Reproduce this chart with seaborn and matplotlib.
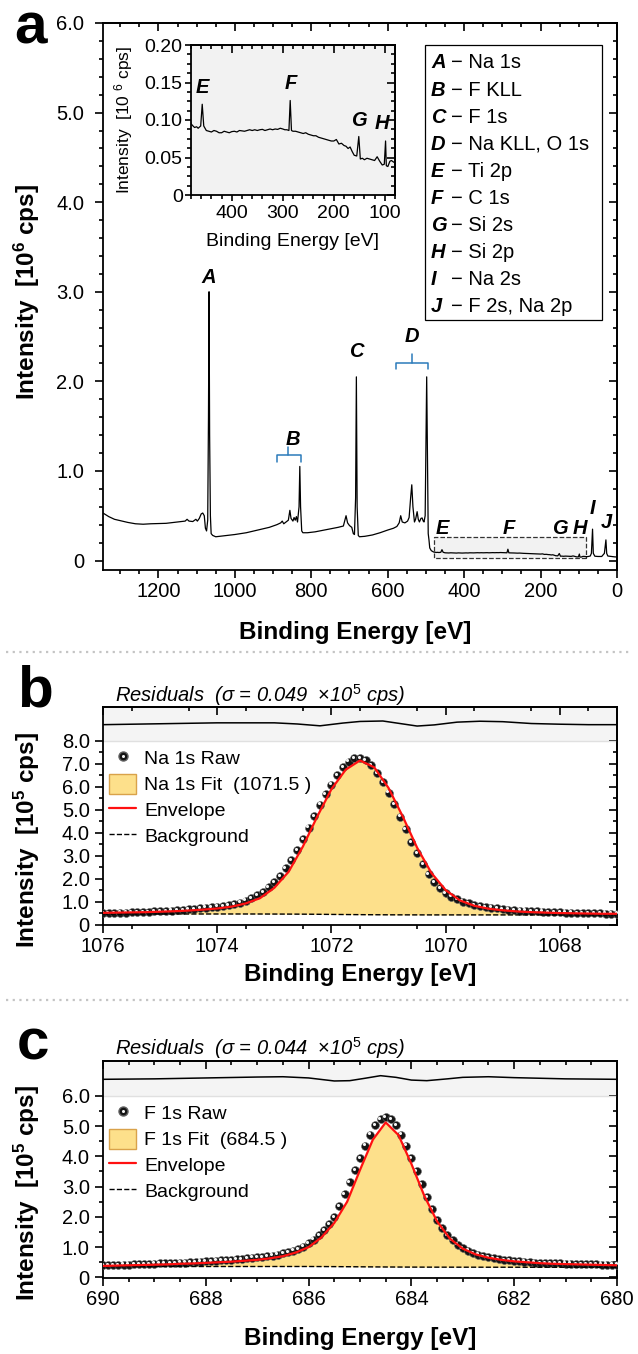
import numpy as np
import pandas as pd
import seaborn as sns
import matplotlib.pyplot as plt
import matplotlib.transforms as mtransforms
from matplotlib.lines import Line2D
from matplotlib.patches import Patch, Rectangle
from matplotlib.ticker import FixedLocator, FuncFormatter, NullFormatter
from matplotlib.legend_handler import HandlerTuple

# ---------------- survey spectrum (panel a) ----------------
survey_be = [1345, 1330, 1315, 1300, 1280, 1260, 1240, 1220, 1200, 1180, 1160, 1140, 1130, 1125, 1120,
             1110, 1105, 1102, 1098, 1093, 1088, 1084, 1080, 1077, 1074, 1071, 1069, 1067.5, 1066, 1064,
             1062, 1058, 1050, 1030, 1000, 970, 940, 910, 890, 880, 876, 872, 866, 860, 856,
             853, 848, 845, 842, 839, 836, 832, 830, 828, 825, 822, 810, 790, 760, 730,
             716, 712, 709, 705, 700, 694, 690, 687, 684, 682, 680, 677, 674, 660, 640,
             620, 600, 585, 576, 570, 566, 562, 555, 548, 544, 540, 537, 534, 530, 527,
             523, 520, 517, 513, 510, 507, 505, 502, 500, 498, 496, 494, 492, 490, 486,
             482, 480, 476, 473, 469, 466, 461, 458, 455, 450, 445, 440, 435, 430, 425,
             420, 415, 410, 405, 400, 395, 390, 385, 380, 375, 370, 365, 360, 355, 350,
             345, 340, 335, 330, 325, 320, 315, 310, 305, 300, 296, 292, 288, 285.5, 283,
             280, 275, 270, 265, 260, 255, 250, 245, 240, 235, 230, 225, 220, 215, 210,
             205, 200, 195, 190, 185, 180, 176, 172, 168, 164, 160, 155, 151, 148, 144,
             140, 135, 130, 125, 120, 115, 110, 105, 101, 98.5, 97, 94, 90, 87, 83,
             80, 75, 70, 67, 64, 62, 58, 50, 40, 33, 29, 27, 24, 15, 5,
             0]
survey_int = [0.53, 0.49, 0.46, 0.445, 0.425, 0.41, 0.405, 0.41, 0.412, 0.415, 0.425, 0.435, 0.44, 0.46, 0.44,
              0.435, 0.45, 0.46, 0.44, 0.47, 0.52, 0.53, 0.50, 0.36, 0.33, 0.45, 1.6, 3.0, 1.4, 0.5,
              0.30, 0.28, 0.265, 0.275, 0.29, 0.31, 0.34, 0.37, 0.40, 0.42, 0.44, 0.41, 0.43, 0.45, 0.56,
              0.47, 0.44, 0.48, 0.45, 0.49, 0.43, 0.60, 1.05, 0.60, 0.33, 0.31, 0.31, 0.32, 0.345, 0.37,
              0.385, 0.45, 0.50, 0.42, 0.39, 0.37, 0.30, 0.29, 0.70, 2.05, 0.60, 0.28, 0.265, 0.27, 0.285,
              0.31, 0.34, 0.36, 0.38, 0.42, 0.50, 0.43, 0.42, 0.44, 0.48, 0.70, 0.845, 0.60, 0.43, 0.46,
              0.545, 0.46, 0.43, 0.47, 0.475, 0.44, 0.43, 0.50, 1.30, 2.05, 1.20, 0.30, 0.23, 0.14, 0.11,
              0.10, 0.095, 0.092, 0.090, 0.091, 0.089, 0.092, 0.121, 0.092, 0.086, 0.085, 0.084, 0.086, 0.085, 0.083,
              0.083, 0.085, 0.084, 0.083, 0.0845, 0.085, 0.084, 0.086, 0.0855, 0.085, 0.086, 0.087, 0.086, 0.087, 0.086,
              0.087, 0.0875, 0.086, 0.087, 0.088, 0.087, 0.088, 0.0875, 0.089, 0.088, 0.087, 0.087, 0.086, 0.126, 0.086,
              0.085, 0.085, 0.084, 0.083, 0.082, 0.083, 0.081, 0.080, 0.079, 0.079, 0.077, 0.076, 0.075, 0.074, 0.073,
              0.072, 0.072, 0.074, 0.068, 0.069, 0.066, 0.065, 0.062, 0.064, 0.058, 0.053, 0.052, 0.078, 0.048, 0.049,
              0.047, 0.049, 0.048, 0.047, 0.046, 0.051, 0.045, 0.040, 0.041, 0.072, 0.039, 0.038, 0.045, 0.046, 0.044,
              0.043, 0.045, 0.050, 0.080, 0.35, 0.08, 0.048, 0.045, 0.045, 0.08, 0.23, 0.08, 0.05, 0.045, 0.04,
              0.04]

peak_letters = ['A', 'B', 'C', 'D', 'E', 'F', 'G', 'H', 'I', 'J']
peak_names = ['Na 1s', 'F KLL', 'F 1s', 'Na KLL, O 1s', 'Ti 2p', 'C 1s', 'Si 2s', 'Si 2p', 'Na 2s', 'F 2s, Na 2p']
label_be = [1068, 847, 682, 536, 458, 282, 149, 97, 64, 29]
label_int = [3.16, 1.35, 2.33, 2.50, 0.36, 0.36, 0.36, 0.36, 0.58, 0.42]

inset_letters = ['E', 'F', 'G', 'H']
inset_label_be = [457, 284, 150, 105]
inset_label_int = [0.143, 0.149, 0.100, 0.095]

# brackets: (left eV, right eV, centre eV, y, y_end, y_stem)
bracket_b = (889, 826, 860, 1.18, 1.10, 1.27)
bracket_d = (578, 494, 536, 2.21, 2.14, 2.31)
zoom_box = (80, 480, 0.03, 0.26)

# ---------------- Na 1s (panel b) ----------------
na_raw_be = np.round(np.arange(1076.0, 1066.95, -0.1), 2)
na_raw = [0.50, 0.51, 0.51, 0.52, 0.52, 0.53, 0.54, 0.55, 0.55, 0.57,
          0.58, 0.59, 0.61, 0.62, 0.64, 0.66, 0.68, 0.70, 0.73, 0.76,
          0.78, 0.81, 0.85, 0.90, 0.96, 1.04, 1.14, 1.27, 1.42, 1.62,
          1.85, 2.12, 2.45, 2.82, 3.25, 3.72, 4.22, 4.72, 5.22, 5.68,
          6.10, 6.50, 6.85, 7.10, 7.24, 7.26, 7.16, 6.95, 6.60, 6.20,
          5.75, 5.25, 4.70, 4.15, 3.60, 3.10, 2.62, 2.20, 1.85, 1.58,
          1.38, 1.22, 1.10, 1.00, 0.92, 0.86, 0.81, 0.77, 0.73, 0.70,
          0.67, 0.65, 0.63, 0.61, 0.60, 0.58, 0.57, 0.56, 0.55, 0.54,
          0.53, 0.52, 0.52, 0.51, 0.50, 0.50, 0.49, 0.49, 0.48, 0.48,
          0.48]
na_fit_be = np.arange(1076.0, 1066.99, -0.25)
na_env = [0.51, 0.52, 0.53, 0.54, 0.56, 0.58, 0.61, 0.65, 0.70, 0.78, 0.92, 1.15, 1.60,
          2.30, 3.40, 4.70, 5.90, 6.75, 7.15, 6.85, 5.95, 4.70, 3.35, 2.25, 1.50, 1.05,
          0.82, 0.69, 0.62, 0.57, 0.54, 0.52, 0.50, 0.49, 0.48, 0.47, 0.47]
na_bg = [0.46, 0.46, 0.46, 0.46, 0.46, 0.46, 0.46, 0.46, 0.46, 0.46,
         0.46, 0.459, 0.457, 0.455, 0.452, 0.447, 0.441, 0.436, 0.431, 0.427,
         0.424, 0.422, 0.421, 0.420, 0.420, 0.420, 0.420, 0.420, 0.420, 0.420,
         0.420, 0.420, 0.420, 0.420, 0.420, 0.420, 0.420]
na_res_be = [1076, 1075, 1074, 1073, 1072.6, 1072.2, 1071.8, 1071.5, 1071.1, 1070.8,
             1070.5, 1070.2, 1069.8, 1069.4, 1069, 1068.5, 1068, 1067.5, 1067]
na_res = [8.71, 8.75, 8.79, 8.79, 8.74, 8.66, 8.78, 8.85, 8.87, 8.76,
          8.65, 8.70, 8.82, 8.86, 8.84, 8.76, 8.73, 8.71, 8.71]

# ---------------- F 1s (panel c) ----------------
f_raw_be = np.round(np.arange(690.0, 679.95, -0.1), 2)
f_raw = [0.40, 0.40, 0.41, 0.41, 0.42, 0.42, 0.43, 0.43, 0.44, 0.44,
         0.45, 0.46, 0.46, 0.47, 0.48, 0.49, 0.49, 0.50, 0.51, 0.52,
         0.53, 0.54, 0.55, 0.56, 0.57, 0.58, 0.60, 0.61, 0.63, 0.65,
         0.66, 0.68, 0.70, 0.72, 0.75, 0.79, 0.83, 0.88, 0.94, 1.02,
         1.12, 1.25, 1.40, 1.57, 1.77, 2.00, 2.35, 2.75, 3.15, 3.55,
         3.95, 4.35, 4.72, 5.02, 5.22, 5.30, 5.22, 5.02, 4.72, 4.35,
         3.95, 3.52, 3.08, 2.65, 2.25, 1.90, 1.62, 1.40, 1.22, 1.08,
         0.97, 0.88, 0.81, 0.75, 0.70, 0.66, 0.63, 0.60, 0.58, 0.56,
         0.54, 0.53, 0.52, 0.50, 0.49, 0.48, 0.48, 0.47, 0.46, 0.46,
         0.45, 0.45, 0.44, 0.44, 0.43, 0.43, 0.43, 0.42, 0.42, 0.42,
         0.42]
f_fit_be = np.arange(690.0, 679.99, -0.25)
f_env = [0.38, 0.39, 0.40, 0.41, 0.42, 0.43, 0.45, 0.46, 0.48, 0.50,
         0.52, 0.55, 0.58, 0.63, 0.70, 0.82, 1.00, 1.32, 1.80, 2.50,
         3.55, 4.55, 5.12, 4.70, 3.75, 2.70, 1.85, 1.28, 0.95, 0.76,
         0.65, 0.58, 0.53, 0.50, 0.47, 0.45, 0.44, 0.43, 0.42, 0.41,
         0.40]
f_bg = [0.36, 0.36, 0.36, 0.36, 0.36, 0.36, 0.36, 0.36, 0.36, 0.36,
        0.36, 0.36, 0.36, 0.36, 0.36, 0.36, 0.36, 0.358, 0.356, 0.353,
        0.350, 0.347, 0.344, 0.342, 0.340, 0.339, 0.338, 0.338, 0.337, 0.337,
        0.336, 0.336, 0.336, 0.335, 0.335, 0.335, 0.335, 0.335, 0.335, 0.335,
        0.335]
f_res_be = [690, 689, 688, 687, 686.5, 686, 685.5, 685.2, 684.9, 684.6,
            684.3, 684, 683.7, 683.3, 683, 682.5, 682, 681, 680]
f_res = [6.545, 6.56, 6.59, 6.62, 6.63, 6.59, 6.49, 6.50, 6.58, 6.665,
         6.61, 6.52, 6.50, 6.56, 6.61, 6.63, 6.60, 6.56, 6.545]

FILL = '#fde08b'
FILL_EDGE = '#d9a24a'
W, H = 638, 1354
TICK = 14.5
LAB = 17.5

sns.set_theme(style='ticks')
plt.rcParams['font.family'] = ['Liberation Sans', 'DejaVu Sans']
plt.rcParams['mathtext.fontset'] = 'custom'
plt.rcParams['mathtext.rm'] = 'Liberation Sans'
plt.rcParams['mathtext.it'] = 'Liberation Sans:italic'
plt.rcParams['mathtext.bf'] = 'Liberation Sans:bold'
plt.rcParams['axes.edgecolor'] = 'black'
plt.rcParams['axes.linewidth'] = 1.3
plt.rcParams['text.color'] = 'black'
plt.rcParams['axes.labelcolor'] = 'black'
plt.rcParams['xtick.color'] = 'black'
plt.rcParams['ytick.color'] = 'black'


def rect(l, t, r, b):
    return [l / W, 1 - b / H, (r - l) / W, (b - t) / H]


def frame(ax, xmaj, xmin, ymaj, ymin, fmt, size=TICK, ypad=4):
    ax.xaxis.set_major_locator(FixedLocator(xmaj))
    ax.xaxis.set_minor_locator(FixedLocator(xmin))
    ax.yaxis.set_major_locator(FixedLocator(ymaj))
    ax.yaxis.set_minor_locator(FixedLocator(ymin))
    ax.yaxis.set_major_formatter(FuncFormatter(fmt))
    ax.xaxis.set_major_formatter(FuncFormatter(lambda v, p: f'{v:g}'))
    ax.tick_params(which='both', direction='out', top=False, right=False, width=1.2, labelsize=size)
    ax.tick_params(which='major', length=5.5)
    ax.tick_params(which='minor', length=3)
    ax.tick_params(axis='y', pad=ypad)
    ax.tick_params(axis='x', pad=3)
    top = ax.secondary_xaxis('top')
    top.xaxis.set_major_locator(FixedLocator(xmaj))
    top.xaxis.set_minor_locator(FixedLocator(xmin))
    top.xaxis.set_major_formatter(NullFormatter())
    top.tick_params(which='both', direction='in', width=1.2)
    top.tick_params(which='major', length=5.5)
    top.tick_params(which='minor', length=3)
    right = ax.secondary_yaxis('right')
    right.yaxis.set_major_locator(FixedLocator(ymaj))
    right.yaxis.set_minor_locator(FixedLocator(ymin))
    right.yaxis.set_major_formatter(NullFormatter())
    right.tick_params(which='both', direction='in', width=1.2)
    right.tick_params(which='major', length=5.5)
    right.tick_params(which='minor', length=3)
    ax.set_xlabel('')
    ax.set_ylabel('')


fmt1 = lambda v, p: '0' if v == 0 else f'{v:.1f}'
fmt2 = lambda v, p: '0' if v == 0 else f'{v:.2f}'

fig = plt.figure(figsize=(W / 100, H / 100), dpi=100)
survey = pd.DataFrame({'be': survey_be, 'intensity': survey_int})

# ---------------- panel a ----------------
ax = fig.add_axes(rect(103, 23, 617, 570))
sns.lineplot(data=survey, x='be', y='intensity', color='black', lw=0.9, ax=ax, sort=False, zorder=3)
ax.set_xlim(1345, 0)
ax.set_ylim(-0.106, 6.0)
frame(ax, list(range(0, 1201, 200)), [v for v in range(50, 1345, 50) if v % 200],
      list(range(0, 7)), [v / 10 for v in range(0, 60, 2) if v % 10], fmt1, ypad=8)
x0, x1, y0, y1 = zoom_box
ax.add_patch(Rectangle((x0, y0), x1 - x0, y1 - y0, facecolor='#f2f2f2', edgecolor='#333333',
                       ls='--', lw=0.9, zorder=2))
for letter, be, yi in zip(peak_letters, label_be, label_int):
    ax.text(be, yi, letter, fontsize=14.5, fontweight='bold', fontstyle='italic', ha='center', va='center')
for l, r, c, yb, ye, ys in (bracket_b, bracket_d):
    ax.plot([l, l, r, r], [ye, yb, yb, ye], color='#2b7bba', lw=1.1)
    ax.plot([c, c], [yb, ys], color='#2b7bba', lw=1.1)

# legend box with peak assignments
bx0, bx1 = (425 - 103) / 514, (602 - 103) / 514
by0, by1 = (570 - 320) / 547, (570 - 45) / 547
ax.add_patch(Rectangle((bx0, by0), bx1 - bx0, by1 - by0, transform=ax.transAxes, facecolor='white',
                       edgecolor='black', lw=0.9, zorder=4))
for i, (letter, name) in enumerate(zip(peak_letters, peak_names)):
    yy = (570 - (63 + 27.1 * i)) / 547
    ax.text((431 - 103) / 514, yy, letter, transform=ax.transAxes, fontsize=14.5, fontweight='bold',
            fontstyle='italic', ha='left', va='center', zorder=5)
    ax.text((451 - 103) / 514, yy, '\u2212 ' + name, transform=ax.transAxes, fontsize=14.5,
            ha='left', va='center', zorder=5)

# inset
ins = fig.add_axes(rect(191, 45, 395, 195))
ins.set_facecolor('#f2f2f2')
sns.lineplot(data=survey, x='be', y='intensity', color='black', lw=0.9, ax=ins, sort=False)
ins.set_xlim(480, 80)
ins.set_ylim(0, 0.2)
frame(ins, [100, 200, 300, 400], [v for v in range(80, 481, 20) if v % 100],
      [0, 0.05, 0.10, 0.15, 0.20], [k * 0.0125 for k in range(16) if k % 4], fmt2, size=14, ypad=2)
ins.tick_params(which='major', length=4)
for letter, be, yi in zip(inset_letters, inset_label_be, inset_label_int):
    ins.text(be, yi, letter, fontsize=14.5, fontweight='bold', fontstyle='italic', ha='center', va='center')
fig.text(124 / W, 1 - 120 / H, r'Intensity  [10 $^6$ cps]', rotation=90, fontsize=12.5, ha='center', va='center')
fig.text(293 / W, 1 - 242 / H, 'Binding Energy [eV]', fontsize=14, ha='center', va='center')

fig.text(27 / W, 1 - 292 / H, r'Intensity  [10$^\mathbf{6}$ cps]', rotation=90, fontsize=LAB,
         fontweight='bold', ha='center', va='center')
fig.text(355 / W, 1 - 632 / H, 'Binding Energy [eV]', fontsize=LAB, fontweight='bold', ha='center', va='center')
fig.text(14 / W, 1 - 44 / H, 'a', fontsize=42, fontweight='bold', ha='left', va='baseline')


# ---------------- fit panels ----------------
def fit_panel(top, bottom, raw_be, raw, fit_be, env, bg, res_be, res, ytop, yband, ymax_tick,
              name, pos, sigma, letter, letter_y, res_y, xlabel_y, xlim):
    ax = fig.add_axes(rect(103, top, 617, bottom))
    ax.axhspan(yband, ytop, color='#f4f4f4', zorder=0, lw=0)
    ax.axhline(yband, color='#e0e0e0', lw=1, zorder=0.5)
    ax.fill_between(fit_be, bg, env, color=FILL, lw=0, zorder=1)
    sns.scatterplot(x=raw_be, y=raw, color='#151515', s=32, edgecolor='#606060', linewidth=0.4,
                    ax=ax, zorder=3, legend=False)
    hl = mtransforms.offset_copy(ax.transData, fig=fig, x=-1.3, y=1.3, units='dots')
    ax.scatter(raw_be, raw, s=5, color='#f4f4f4', transform=hl, zorder=3.5, lw=0)
    sns.lineplot(x=fit_be, y=bg, color='black', lw=1.0, ls='--', ax=ax, zorder=4, sort=False)
    sns.lineplot(x=fit_be, y=env, color='#ff1010', lw=1.6, ax=ax, zorder=5, sort=False)
    sns.lineplot(x=res_be, y=res, color='black', lw=1.1, ax=ax, zorder=5, sort=False)
    ax.set_xlim(*xlim)
    ax.set_ylim(-0.02, ytop)
    lo, hi = min(xlim), max(xlim)
    frame(ax, list(range(int(lo) + (int(lo) % 2), int(hi) + 1, 2)),
          [lo + 0.5 * k for k in range(int((hi - lo) * 2) + 1) if k % 4],
          list(range(0, ymax_tick + 1)), [k + 0.5 for k in range(ymax_tick)], fmt1)
    raw_h = (Line2D([], [], ls='', marker='o', ms=6.5, color='#151515', mec='#606060'),
             Line2D([], [], ls='', marker='o', ms=2.2, color='#f4f4f4', mec='none'))
    handles = [raw_h, Patch(facecolor=FILL, edgecolor=FILL_EDGE, lw=1.0),
               Line2D([], [], color='#ff1010', lw=1.6), Line2D([], [], color='black', lw=1.0, ls='--')]
    labels = [f'{name} Raw', f'{name} Fit  ({pos} )', 'Envelope', 'Background']
    band_px = bottom - (bottom - top) * (yband + 0.02) / (ytop + 0.02)
    ax.legend(handles, labels, handler_map={tuple: HandlerTuple(ndivide=1, pad=0)},
              loc='upper left', bbox_to_anchor=(0.005, 1 - (band_px - top + 3) / (bottom - top)),
              frameon=False, fontsize=14, handlelength=1.35, handleheight=1.2, handletextpad=0.45,
              labelspacing=0.28, borderaxespad=0, borderpad=0.2)
    fig.text(115 / W, 1 - res_y / H, 'Residuals  (' + r'$\sigma$' + f' = {sigma}  ' + r'$\times$' + '10' +
             r'$^5$' + ' cps)', fontsize=14.5, fontstyle='italic', ha='left', va='baseline')
    fig.text(27 / W, 1 - (top + (bottom - top) * 0.61) / H, r'Intensity  [10$^\mathbf{5}$ cps]', rotation=90,
             fontsize=LAB, fontweight='bold', ha='center', va='center')
    fig.text(360 / W, 1 - xlabel_y / H, 'Binding Energy [eV]', fontsize=LAB, fontweight='bold',
             ha='center', va='center')
    fig.text(17 / W, 1 - letter_y / H, letter, fontsize=42, fontweight='bold', ha='left', va='baseline')
    return ax


fit_panel(707, 925, na_raw_be, na_raw, na_fit_be, na_env, na_bg, na_res_be, na_res, 9.48, 8.0, 8,
          'Na 1s', '1071.5', '0.049', 'b', 706, 702, 975, (1076, 1067))
fit_panel(1061, 1278, f_raw_be, f_raw, f_fit_be, f_env, f_bg, f_res_be, f_res, 7.15, 6.0, 6,
          'F 1s', '684.5', '0.044', 'c', 1060, 1055, 1338, (690, 680))

for yy in (652, 1000):
    fig.add_artist(Line2D([0.01, 0.99], [1 - yy / H, 1 - yy / H], transform=fig.transFigure,
                          color='#c4c4c4', lw=1.6, ls=(0, (1, 2))))

fig.savefig('out.png', dpi=100)
